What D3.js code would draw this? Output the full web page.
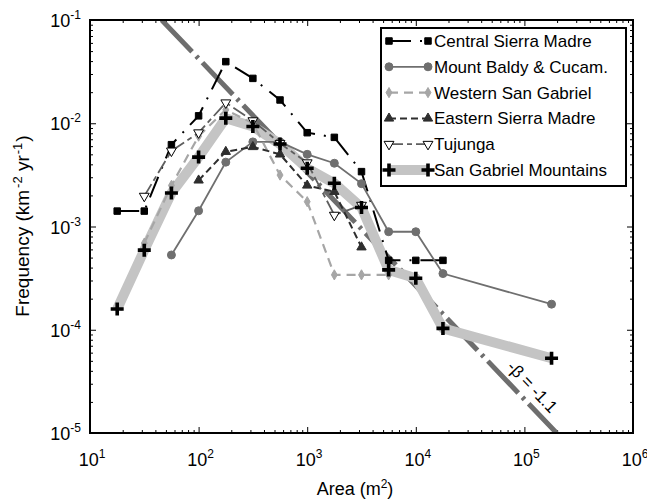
<!DOCTYPE html>
<html lang="en">
<head>
<meta charset="UTF-8">
<title>Landslide frequency vs area</title>
<script src="https://d3js.org/d3.v7.min.js"></script>
<style>
  body { margin: 0; background: white; }
  svg { display: block; font-family: "Liberation Sans", Arial, sans-serif; }
</style>
</head>
<body>
<svg width="647" height="502" id="chart"></svg>
<script>
// bin centres (m^2), quarter decades
const areaBins = [17.8, 31.6, 56.2, 100, 178, 316, 562, 1000, 1778, 3162, 5623, 10000, 17783, 177828];

const centralArea = areaBins.slice(0, 13);
const centralFreq = [1.41e-3, 1.41e-3, 6.2e-3, 1.18e-2, 3.95e-2, 2.72e-2, 1.68e-2, 8.1e-3, 7.3e-3, 3.4e-3, 4.7e-4, 4.7e-4, 4.7e-4];

const baldyArea = [56.2, 100, 178, 316, 562, 1000, 1778, 3162, 5623, 10000, 17783, 177828];
const baldyFreq = [5.3e-4, 1.42e-3, 4.2e-3, 6.6e-3, 6.6e-3, 5.0e-3, 4.1e-3, 2.6e-3, 8.9e-4, 8.9e-4, 3.5e-4, 1.77e-4];

const westernArea = [31.6, 56.2, 100, 178, 316, 562, 1000, 1778, 3162, 5623];
const westernFreq = [6.9e-4, 2.5e-3, 7.5e-3, 1.35e-2, 1.0e-2, 3.15e-3, 1.74e-3, 3.4e-4, 3.4e-4, 3.4e-4];

const easternArea = [100, 178, 316, 562, 1000, 1778, 3162];
const easternFreq = [2.8e-3, 5.3e-3, 5.9e-3, 5.0e-3, 2.5e-3, 2.17e-3, 6.3e-4];

const tujungaArea = [31.6, 56.2, 100, 178, 316, 562, 1000, 1778, 3162];
const tujungaFreq = [1.97e-3, 5.4e-3, 8.1e-3, 1.58e-2, 1.06e-2, 6.4e-3, 4.15e-3, 1.29e-3, 1.61e-3];

const gabrielArea = areaBins;
const gabrielFreq = [1.59e-4, 5.9e-4, 2.11e-3, 4.7e-3, 1.12e-2, 9.3e-3, 6.3e-3, 3.66e-3, 2.62e-3, 1.53e-3, 3.8e-4, 3.15e-4, 1.03e-4, 5.3e-5];

const seriesNames = ["Central Sierra Madre", "Mount Baldy & Cucam.", "Western San Gabriel",
                     "Eastern Sierra Madre", "Tujunga", "San Gabriel Mountains"];

// reference power law: passes through (45.7, 0.1) with slope -1.1
const betaSlope = -1.1;
const betaAnchor = [45.7, 0.1];
const betaLabel = "-\u03B2 = -1.1";

const xTickExps = [1, 2, 3, 4, 5, 6];
const yTickExps = [-5, -4, -3, -2, -1];

// ------------------------------------------------------------
const svg = d3.select("#chart");
const x = d3.scaleLog().domain([1e1, 1e6]).range([90, 633]);
const y = d3.scaleLog().domain([1e-5, 1e-1]).range([433, 20]);
const [x0, x1] = x.range();
const [y1, y0] = y.range();

const styles = [
    { color: "#000", width: 2, dash: "22,9,2,9", marker: "square", msize: 42, fill: "#000" },
    { color: "#6f6f6f", width: 1.8, dash: null, marker: "circle", msize: 50, fill: "#6f6f6f" },
    { color: "#a6a6a6", width: 2.2, dash: "9,6", marker: "diamond", msize: 30, fill: "#a6a6a6" },
    { color: "#2e2e2e", width: 2, dash: "7,4", marker: "triangle", msize: 38, fill: "#2e2e2e" },
    { color: "#5e5e5e", width: 1.8, dash: "14,4,5,4", marker: "tridown", msize: 42, fill: "#fff" },
    { color: "#c4c4c4", width: 10, dash: null, marker: "plus", msize: 0, fill: "#000" }
];

const data = [
    [centralArea, centralFreq], [baldyArea, baldyFreq], [westernArea, westernFreq],
    [easternArea, easternFreq], [tujungaArea, tujungaFreq], [gabrielArea, gabrielFreq]
].map((d, i) => ({
    name: seriesNames[i],
    style: styles[i],
    pts: d[0].map((a, j) => [a, d[1][j]])
}));

svg.append("defs").append("clipPath").attr("id", "plotClip")
    .append("rect").attr("x", x0).attr("y", y0).attr("width", x1 - x0).attr("height", y1 - y0);

// ticks (inward, all four sides)
const minorX = [], majorX = [], minorY = [], majorY = [];
xTickExps.forEach(e => { majorX.push(Math.pow(10, e)); if (e < 6) for (let m = 2; m < 10; m++) minorX.push(m * Math.pow(10, e)); });
yTickExps.forEach(e => { majorY.push(Math.pow(10, e)); if (e < -1) for (let m = 2; m < 10; m++) minorY.push(m * Math.pow(10, e)); });

function addAxis(axis, tx, ty) {
    const g = svg.append("g").attr("transform", `translate(${tx},${ty})`).call(axis);
    g.select(".domain").remove();
    g.selectAll("text").remove();
    g.selectAll("line").attr("stroke", "#000").attr("stroke-width", 1);
}
addAxis(d3.axisBottom(x).tickValues(majorX).tickSize(-6), 0, y1);
addAxis(d3.axisBottom(x).tickValues(minorX).tickSize(-3), 0, y1);
addAxis(d3.axisTop(x).tickValues(majorX).tickSize(-6), 0, y0);
addAxis(d3.axisTop(x).tickValues(minorX).tickSize(-3), 0, y0);
addAxis(d3.axisLeft(y).tickValues(majorY).tickSize(-6), x0, 0);
addAxis(d3.axisLeft(y).tickValues(minorY).tickSize(-3), x0, 0);
addAxis(d3.axisRight(y).tickValues(majorY).tickSize(-6), x1, 0);
addAxis(d3.axisRight(y).tickValues(minorY).tickSize(-3), x1, 0);

// tick labels 10^n
xTickExps.forEach(e => {
    const t = svg.append("text").attr("x", x(Math.pow(10, e)) + 2).attr("y", 466)
        .attr("text-anchor", "middle").attr("font-size", 18);
    t.append("tspan").text("10");
    t.append("tspan").attr("dy", -8).attr("font-size", 12).text(e);
});
yTickExps.forEach(e => {
    const t = svg.append("text").attr("x", 81).attr("y", y(Math.pow(10, e)) + 7)
        .attr("text-anchor", "end").attr("font-size", 18);
    t.append("tspan").text("10");
    t.append("tspan").attr("dy", -8).attr("font-size", 12).text(e);
});

// axis titles
const xt = svg.append("text").attr("x", 355).attr("y", 495).attr("text-anchor", "middle").attr("font-size", 18);
xt.append("tspan").text("Area (m");
xt.append("tspan").attr("dy", -7).attr("font-size", 12).text("2");
xt.append("tspan").attr("dy", 7).text(")");

const yt = svg.append("text").attr("transform", "translate(29,226) rotate(-90)")
    .attr("text-anchor", "middle").attr("font-size", 19);
yt.append("tspan").text("Frequency (km");
yt.append("tspan").attr("dy", -7).attr("dx", 2).attr("font-size", 13).text("-2");
yt.append("tspan").attr("dy", 7).text(" yr");
yt.append("tspan").attr("dy", -7).attr("dx", 1).attr("font-size", 13).text("-1");
yt.append("tspan").attr("dy", 7).attr("dx", 1).text(")");

const plot = svg.append("g").attr("clip-path", "url(#plotClip)");

// beta reference line
const betaLine = d3.line().x(d => x(d[0])).y(d => y(d[1]));
const betaAreaAt = f => betaAnchor[0] * Math.pow(f / betaAnchor[1], 1 / betaSlope);
plot.append("path")
    .attr("d", betaLine([[betaAreaAt(0.1), 0.1], [betaAreaAt(1e-5), 1e-5]]))
    .attr("fill", "none").attr("stroke", "#6e6e6e").attr("stroke-width", 5)
    .attr("stroke-dasharray", "44,6,3,6");

const line = d3.line().x(d => x(d[0])).y(d => y(d[1]));

function markerPath(kind, size) {
    if (kind === "square") return d3.symbol(d3.symbolSquare, size)();
    if (kind === "circle") return d3.symbol(d3.symbolCircle, size)();
    if (kind === "diamond") return d3.symbol(d3.symbolDiamond, size)();
    if (kind === "triangle" || kind === "tridown") return d3.symbol(d3.symbolTriangle, size)();
    return "M-6.5,0H6.5M0,-6.5V6.5";
}

function drawMarkers(g, s, pts) {
    g.selectAll(null).data(pts).enter().append("path")
        .attr("d", markerPath(s.marker, s.msize))
        .attr("transform", d => `translate(${x(d[0])},${y(d[1])})` + (s.marker === "tridown" ? " rotate(180)" : ""))
        .attr("fill", s.marker === "plus" ? "none" : s.fill)
        .attr("stroke", s.marker === "plus" ? "#000" : (s.marker === "tridown" ? "#000" : s.color))
        .attr("stroke-width", s.marker === "plus" ? 3.6 : 1);
}

// San Gabriel band underneath
const sg = data[5];
plot.append("path").attr("d", line(sg.pts)).attr("fill", "none")
    .attr("stroke", sg.style.color).attr("stroke-width", sg.style.width).attr("stroke-linejoin", "round");

data.slice(0, 5).forEach(d => {
    plot.append("path").attr("d", line(d.pts)).attr("fill", "none")
        .attr("stroke", d.style.color).attr("stroke-width", d.style.width)
        .attr("stroke-dasharray", d.style.dash);
    drawMarkers(plot, d.style, d.pts);
});
drawMarkers(plot, sg.style, sg.pts);

// beta label
const la = 9.5e4, lf = betaAnchor[1] * Math.pow(la / betaAnchor[0], betaSlope);
const ang = Math.atan2(y(lf * 0.1) - y(lf), x(la * Math.pow(10, -1 / betaSlope)) - x(la)) * 180 / Math.PI;
const rad = ang * Math.PI / 180;
svg.append("text")
    .attr("transform", `translate(${x(la) + 14 * Math.sin(rad)},${y(lf) - 14 * Math.cos(rad)}) rotate(${ang})`)
    .attr("text-anchor", "middle").attr("dominant-baseline", "central")
    .attr("font-size", 17).text(betaLabel);

// frame
svg.append("rect").attr("x", x0).attr("y", y0).attr("width", x1 - x0).attr("height", y1 - y0)
    .attr("fill", "none").attr("stroke", "#000").attr("stroke-width", 2);

// legend
const lg = svg.append("g");
lg.append("rect").attr("x", 381).attr("y", 28).attr("width", 245).attr("height", 158)
    .attr("fill", "#fff").attr("stroke", "#000").attr("stroke-width", 2);
data.forEach((d, i) => {
    const ly = 41 + i * 25.8;
    const s = d.style;
    lg.append("line").attr("x1", 389).attr("x2", 428).attr("y1", ly).attr("y2", ly)
        .attr("stroke", s.color).attr("stroke-width", s.width)
        .attr("stroke-dasharray", s.marker === "plus" ? null : s.dash);
    [389, 428].forEach(mx => {
        lg.append("path").attr("d", markerPath(s.marker, s.msize))
            .attr("transform", `translate(${mx},${ly})` + (s.marker === "tridown" ? " rotate(180)" : ""))
            .attr("fill", s.marker === "plus" ? "none" : s.fill)
            .attr("stroke", s.marker === "plus" || s.marker === "tridown" ? "#000" : s.color)
            .attr("stroke-width", s.marker === "plus" ? 3.6 : 1);
    });
    lg.append("text").attr("x", 434).attr("y", ly + 6).attr("font-size", 17).text(d.name);
});
</script>
</body>
</html>
